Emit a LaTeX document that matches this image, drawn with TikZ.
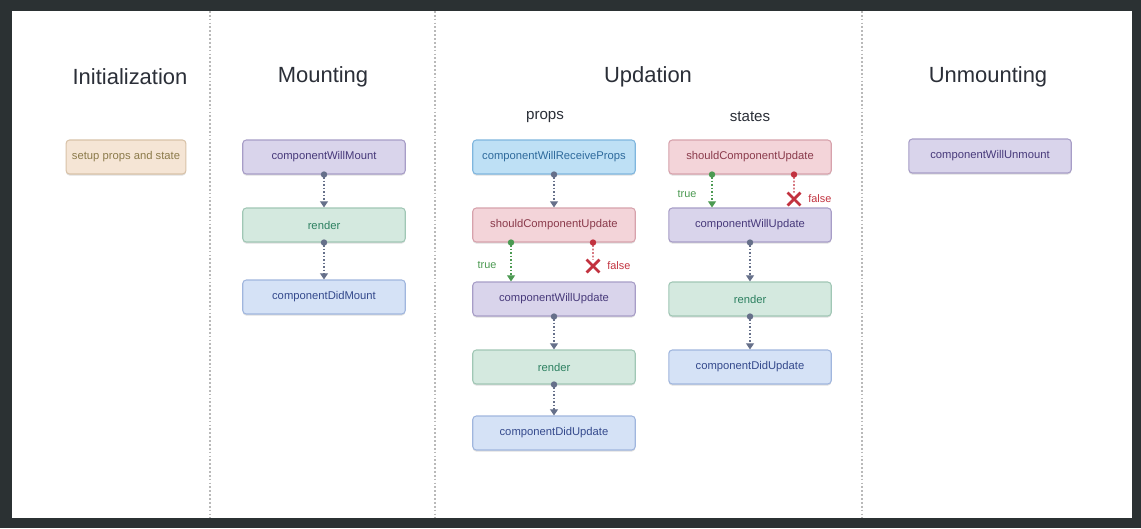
\documentclass[tikz,border=0pt]{standalone}
\usepackage{fontspec}
\setmainfont{Liberation Sans}
\usetikzlibrary{arrows.meta,shapes.misc,shadows}

\definecolor{framegray}{HTML}{2B3133}
\definecolor{titlegray}{HTML}{2B2F38}
\definecolor{linegray}{HTML}{66708A}
\definecolor{truegreen}{HTML}{4C9A52}
\definecolor{falsered}{HTML}{C2323F}
\definecolor{setupfill}{HTML}{F5E5D5}
\definecolor{setupdraw}{HTML}{D8C2A8}
\definecolor{setuptext}{HTML}{8B7A4A}
\definecolor{purplefill}{HTML}{D9D4EB}
\definecolor{purpledraw}{HTML}{A79DC7}
\definecolor{purpletext}{HTML}{47397A}
\definecolor{greenfill}{HTML}{D4E9DF}
\definecolor{greendraw}{HTML}{A0C7B5}
\definecolor{greentext}{HTML}{2C8060}
\definecolor{bluefill}{HTML}{D5E2F6}
\definecolor{bluedraw}{HTML}{A0B6DE}
\definecolor{bluetext}{HTML}{34498C}
\definecolor{skyfill}{HTML}{BEE0F5}
\definecolor{skydraw}{HTML}{7FB6DE}
\definecolor{skytext}{HTML}{2E6A9C}
\definecolor{pinkfill}{HTML}{F3D4D9}
\definecolor{pinkdraw}{HTML}{D7A2AC}
\definecolor{pinktext}{HTML}{8A3A4B}

\tikzset{
	title/.style={font=\fontsize{12.5}{15}\selectfont, text=titlegray},
	subtitle/.style={font=\fontsize{8.6}{10}\selectfont, text=titlegray},
	box/.style={draw, rounded corners=2pt, line width=0.6pt, minimum width=3.25cm, minimum height=0.68cm,
		font=\fontsize{6.4}{8}\selectfont, drop shadow={shadow xshift=0pt, shadow yshift=-0.9pt, opacity=0.25}},
	setupc/.style={fill=setupfill, draw=setupdraw, text=setuptext},
	purplec/.style={fill=purplefill, draw=purpledraw, text=purpletext},
	greenc/.style={fill=greenfill, draw=greendraw, text=greentext},
	bluec/.style={fill=bluefill, draw=bluedraw, text=bluetext},
	skyc/.style={fill=skyfill, draw=skydraw, text=skytext},
	pinkc/.style={fill=pinkfill, draw=pinkdraw, text=pinktext},
	flow/.style={draw=linegray, line width=0.7pt, dash pattern=on 1pt off 1pt,
		{Circle[length=3.6pt]}-{Triangle[width=4.5pt,length=3.5pt]}, shorten <=-1.8pt},
	yes/.style={flow, draw=truegreen, color=truegreen},
	no/.style={draw=falsered, color=falsered, line width=0.7pt, dash pattern=on 1pt off 1pt,
		{Circle[length=3.6pt]}-, shorten <=-1.8pt},
	nocross/.style={cross out, draw=falsered, line width=1.6pt, minimum size=0.2cm, inner sep=0pt},
	lbl/.style={font=\fontsize{6.2}{7}\selectfont}
}

\begin{document}
\begin{tikzpicture}[x=0.02cm, y=-0.02cm]
				\fill[framegray] (0,0) rectangle (1141,528);
				\fill[white] (12,11) rectangle (1132,518);
				\foreach \x in {210,435,862}
					\draw[gray!55, line width=0.6pt, dash pattern=on 1pt off 1.2pt] (\x,11) -- (\x,518);

				\node[title] (tinit) at (130,77) {Initialization};
				\node[title] (tmount) at (323,77) {Mounting};
				\node[title] (tupd) at (648,77) {Updation};
				\node[title] (tunmount) at (988,77) {Unmounting};
				\node[subtitle] (tprops) at (545,117) {props};
				\node[subtitle] (tstates) at (750,117) {states};

				\node[box, setupc, minimum width=2.36cm] (setup) at (126,157) {setup props and state};

				\node[box, purplec] (willmount) at (324,157) {componentWillMount};
				\node[box, greenc] (mrender) at (324,225) {render};
				\node[box, bluec] (didmount) at (324,297) {componentDidMount};
				\draw[flow] (willmount) -- (mrender);
				\draw[flow] (mrender) -- (didmount);

				\node[box, skyc] (receive) at (554,157) {componentWillReceiveProps};
				\node[box, pinkc] (pshould) at (554,225) {shouldComponentUpdate};
				\node[box, purplec] (pwill) at (554,299) {componentWillUpdate};
				\node[box, greenc] (prender) at (554,367) {render};
				\node[box, bluec] (pdid) at (554,433) {componentDidUpdate};
				\draw[flow] (receive) -- (pshould);
				\draw[flow] (pwill) -- (prender);
				\draw[flow] (prender) -- (pdid);
				\coordinate (ptrue) at ([xshift=-0.86cm]pshould.south);
				\coordinate (pfalse) at ([xshift=0.78cm]pshould.south);
				\draw[yes] (ptrue) -- (ptrue |- pwill.north);
				\node[lbl, text=truegreen] (ptruelbl) at (487,265) {true};
				\node[nocross] (pcross) at (593,266) {};
				\node[lbl, text=falsered, right=1pt] (pfalselbl) at (pcross.east) {false};
				\draw[no] (pfalse) -- (pcross.north);

				\node[box, pinkc] (sshould) at (750,157) {shouldComponentUpdate};
				\node[box, purplec] (swill) at (750,225) {componentWillUpdate};
				\node[box, greenc] (srender) at (750,299) {render};
				\node[box, bluec] (sdid) at (750,367) {componentDidUpdate};
				\draw[flow] (swill) -- (srender);
				\draw[flow] (srender) -- (sdid);
				\coordinate (strue) at ([xshift=-0.76cm]sshould.south);
				\coordinate (sfalse) at ([xshift=0.88cm]sshould.south);
				\draw[yes] (strue) -- (strue |- swill.north);
				\node[lbl, text=truegreen] (struelbl) at (687,194) {true};
				\node[nocross] (scross) at (794,199) {};
				\node[lbl, text=falsered, right=1pt] (sfalselbl) at (scross.east) {false};
				\draw[no] (sfalse) -- (scross.north);

				\node[box, purplec] (willunmount) at (990,156) {componentWillUnmount};
\end{tikzpicture}
\end{document}
